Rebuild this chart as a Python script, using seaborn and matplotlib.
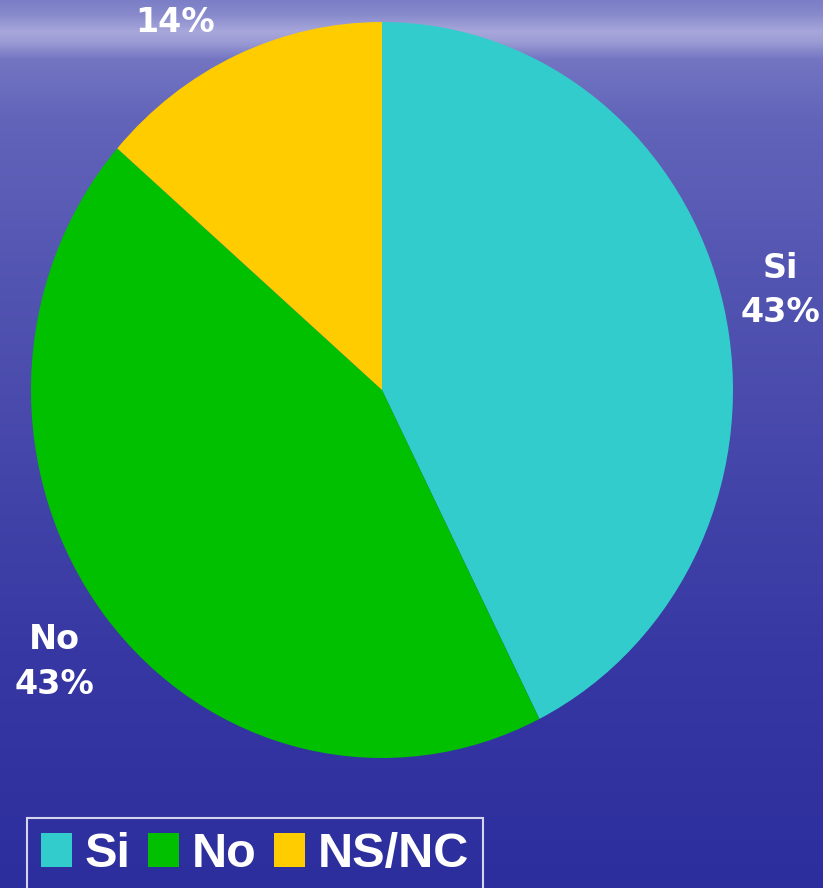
import numpy as np
import matplotlib
matplotlib.use("Agg")
import matplotlib.pyplot as plt
import seaborn as sns
from matplotlib.colors import to_rgb
from matplotlib.patches import Patch
from matplotlib.font_manager import FontProperties

sns.set_theme(style="white")
plt.rcParams['font.family'] = ['DejaVu Sans']

# ---- data ----
categories = ["Si", "No", "NS/NC"]
slice_sizes = [42.6, 43.8, 13.6]      # wedge sizes as drawn
pct_labels = [43, 43, 14]             # percentages printed on the chart
colors = ["#33CCCC", "#00C000", "#FFCC00"]

W, H = 823, 888
fig = plt.figure(figsize=(W / 100, H / 100), dpi=100)

# ---- background gradient ----
bg = fig.add_axes([0, 0, 1, 1], zorder=0)
stops_y = [0, 15, 32, 42, 60, 120, 250, 450, 650, 888]
stops_c = ["#7B7DC6", "#888ACC", "#A7A7DB", "#9C9CD5", "#7375C2",
           "#6264BA", "#5557B3", "#4647AA", "#3738A3", "#2D2E9E"]
ys = np.arange(H)
rgb = np.array([to_rgb(c) for c in stops_c])
col = np.stack([np.interp(ys, stops_y, rgb[:, k]) for k in range(3)], axis=1)
img = np.repeat(col[:, None, :], 8, axis=1)
bg.imshow(img, aspect="auto", extent=[0, 1, 1, 0])
bg.set_axis_off()

# ---- pie ----
cx, cy, rx, ry = 382, 390, 351, 368
ax = fig.add_axes([(cx - rx) / W, (H - cy - ry) / H, 2 * rx / W, 2 * ry / H], zorder=1)
ax.patch.set_alpha(0)
labels = [f"{c}\n{p}%" for c, p in zip(categories, pct_labels)]
labels[2] = f"{pct_labels[2]}%"   # category line lies above the visible area
wedges, texts = ax.pie(slice_sizes, colors=colors, startangle=90, counterclock=False,
                       labels=labels, labeldistance=1.17,
                       wedgeprops=dict(linewidth=0),
                       textprops=dict(color="white", fontsize=24, fontweight="bold",
                                      ha="center", va="center", linespacing=1.45))
ax.set_aspect("auto")
ax.set_xlim(-1, 1)
ax.set_ylim(-1, 1)
ax.set_axis_off()

label_pos = [(1.134, 0.27), (-0.932, -0.74), (-0.59, 1.0)]
for t, p in zip(texts, label_pos):
    t.set_position(p)
    t.set_clip_on(False)

# ---- legend ----
lp = FontProperties(family="Liberation Sans", weight="bold", size=35)
handles = [Patch(facecolor=c, edgecolor="none") for c in colors]
leg = fig.legend(handles, categories, loc="upper left",
                 bbox_to_anchor=(27 / W, 1 - 818 / H), ncol=3,
                 prop=lp,
                 frameon=True, fancybox=False, handlelength=0.64, handleheight=0.7,
                 handletextpad=0.27, columnspacing=0.35, borderpad=0.28,
                 borderaxespad=0)
for t in leg.get_texts():
    t.set_color("white")
fr = leg.get_frame()
fr.set_facecolor("none")
fr.set_edgecolor("white")
fr.set_linewidth(1.5)

fig.savefig("out.png", dpi=100)
